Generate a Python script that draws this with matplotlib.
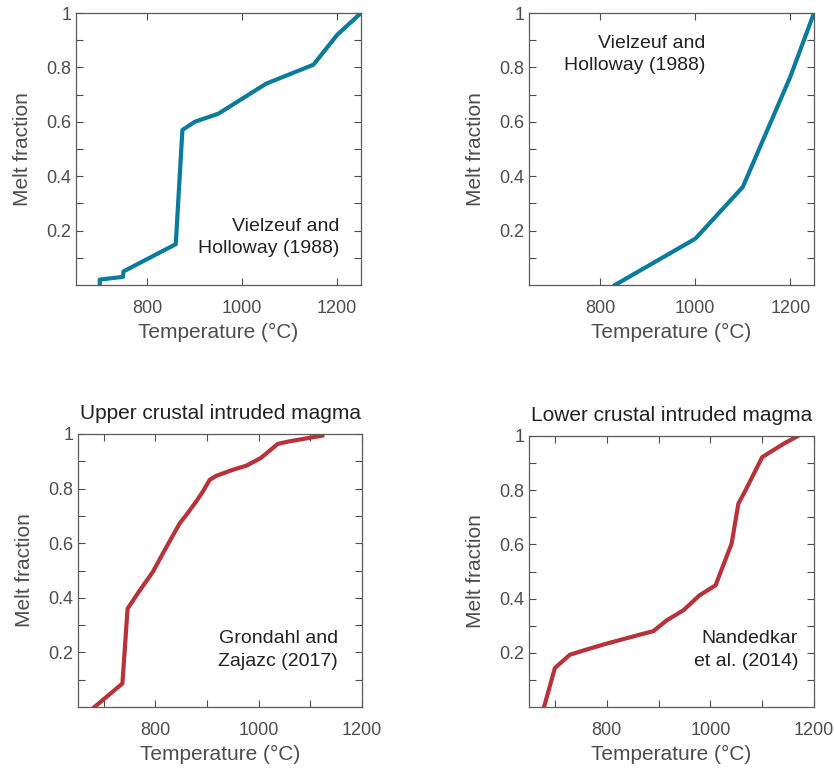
import matplotlib
matplotlib.use("Agg")
import matplotlib.pyplot as plt
from matplotlib.ticker import FixedLocator

plt.rcParams['font.family'] = ['Liberation Sans', 'DejaVu Sans']

# Vielzeuf and Holloway (1988), two melting curves
vh_a_temp = [700, 700, 749, 750, 860, 874, 900, 950, 1050, 1150, 1200, 1250]
vh_a_melt = [0.0, 0.02, 0.03, 0.05, 0.15, 0.57, 0.60, 0.63, 0.74, 0.81, 0.92, 1.0]

vh_b_temp = [831, 1000, 1100, 1200, 1250]
vh_b_melt = [0.0, 0.17, 0.36, 0.765, 1.0]

# Grondahl and Zajazc (2017)
gz_temp = [682, 736, 746, 767, 795, 818, 847, 860, 879, 892, 905, 918, 950, 976,
           1004, 1037, 1059, 1123]
gz_melt = [0.0, 0.086, 0.36, 0.42, 0.495, 0.575, 0.673, 0.704, 0.753, 0.79, 0.832,
           0.847, 0.869, 0.884, 0.912, 0.964, 0.973, 0.994]

# Nandedkar et al. (2014)
nd_temp = [679, 700, 729, 761, 800, 864, 890, 916, 948, 979, 1010, 1041, 1054, 1068,
           1100, 1142, 1169]
nd_melt = [0.0, 0.144, 0.193, 0.212, 0.234, 0.267, 0.28, 0.32, 0.357, 0.412, 0.449,
           0.603, 0.75, 0.80, 0.922, 0.972, 1.0]

teal = '#0A7B9C'
red = '#B8323A'
gray = '#4D4D4D'
dark = '#222222'

fig = plt.figure(figsize=(8.34, 7.72), dpi=100)

W, H = 834, 772


def make_axes(left, top, right, bottom):
    return fig.add_axes([left / W, 1 - bottom / H, (right - left) / W, (bottom - top) / H])


def style(ax, xmax, minor_x):
    ax.set_xlim(650, xmax)
    ax.set_ylim(0, 1)
    ax.xaxis.set_major_locator(FixedLocator([800, 1000, 1200]))
    if minor_x:
        ax.xaxis.set_minor_locator(FixedLocator(minor_x))
    ax.yaxis.set_major_locator(FixedLocator([0.2, 0.4, 0.6, 0.8, 1.0]))
    ax.yaxis.set_minor_locator(FixedLocator([0.1, 0.3, 0.5, 0.7, 0.9]))
    ax.set_yticklabels(['0.2', '0.4', '0.6', '0.8', '1'])
    ax.tick_params(which='both', direction='in', top=True, right=True,
                   color=gray, labelcolor=gray, labelsize=13, width=0.8, length=5)
    ax.tick_params(axis='x', which='major', pad=11)
    for s in ax.spines.values():
        s.set_color('#5A5A5A')
        s.set_linewidth(0.9)
    ax.set_xlabel('Temperature (°C)', fontsize=15, color=gray, labelpad=4)
    ax.set_ylabel('Melt fraction', fontsize=15, color=gray, labelpad=10)


def note(ax, x, y, s, ha='right'):
    ax.text(x, y, s, transform=ax.transAxes, ha=ha, va='center',
            multialignment='right', fontsize=14, color=dark, linespacing=1.4)


ax1 = make_axes(76, 13, 361, 285)
ax1.plot(vh_a_temp, vh_a_melt, color=teal, lw=3)
style(ax1, 1250, None)
note(ax1, 0.925, 0.176, 'Vielzeuf and\nHolloway (1988)')

ax2 = make_axes(529, 13, 814, 285)
ax2.plot(vh_b_temp, vh_b_melt, color=teal, lw=3)
style(ax2, 1250, None)
note(ax2, 0.618, 0.846, 'Vielzeuf and\nHolloway (1988)')

ax3 = make_axes(78, 434, 362, 707)
ax3.plot(gz_temp, gz_melt, color=red, lw=3)
style(ax3, 1200, [700, 900, 1100])
ax3.set_title('Upper crustal intruded magma', fontsize=15, color=dark, pad=11)
note(ax3, 0.915, 0.209, 'Grondahl and\nZajazc (2017)')

ax4 = make_axes(529, 436, 814, 707)
ax4.plot(nd_temp, nd_melt, color=red, lw=3)
style(ax4, 1200, [700, 900, 1100])
ax4.set_title('Lower crustal intruded magma', fontsize=15, color=dark, pad=11)
note(ax4, 0.944, 0.21, 'Nandedkar\net al. (2014)')

fig.savefig('out.png', dpi=100)
